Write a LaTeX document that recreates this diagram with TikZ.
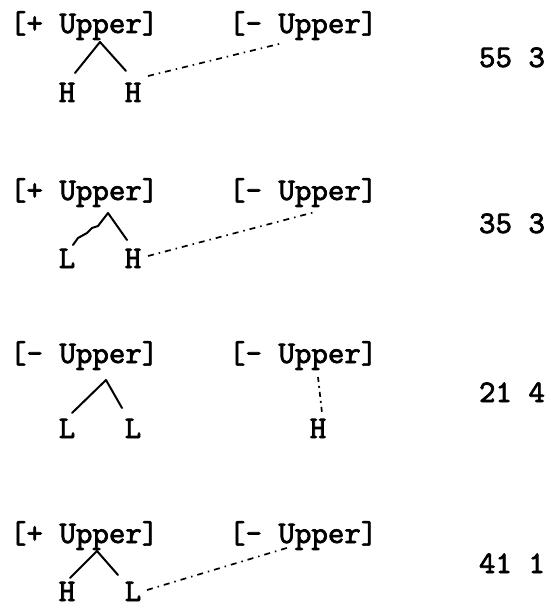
\documentclass[tikz,border=0pt]{standalone}
\usepackage{fontspec}
\setmonofont[FakeBold=2.2]{lmmono10-regular.otf}
\begin{document}
\begin{tikzpicture}[x=1pt,y=-1pt,
  txt/.style={inner sep=0pt,outer sep=0pt,font=\ttfamily\fontsize{31.4}{36}\selectfont},
  tree/.style={line width=2pt,line cap=round,line join=round},
  assoc/.style={line width=1.7pt,dash pattern=on 6pt off 5pt on 1.5pt off 5pt}]
\useasboundingbox (0,0) rectangle (550,609);
% ---------- row 1
\node[txt,anchor=base west] (u1) at (10,33) {[+ Upper]};
\node[txt,anchor=base west] (v1) at (229,33) {[- Upper]};
\node[txt,anchor=base] (h1a) at (67,102) {H};
\node[txt,anchor=base] (h1b) at (133,102) {H};
\node[txt,anchor=base west] (n1) at (479,67) {55 3};
\coordinate (a1) at (100,42);
\coordinate (l1) at (75,73);
\coordinate (r1) at (126,71);
\coordinate (s1) at (148,76);
\coordinate (e1) at (283,43);
\draw[tree] (l1) -- (a1) -- (r1);
\draw[assoc] (s1) -- (e1);
% ---------- row 2
\node[txt,anchor=base west] (u2) at (10,200) {[+ Upper]};
\node[txt,anchor=base west] (v2) at (229,200) {[- Upper]};
\node[txt,anchor=base] (l2a) at (67,268) {L};
\node[txt,anchor=base] (h2b) at (133,268) {H};
\node[txt,anchor=base west] (n2) at (479,233) {35 3};
\coordinate (a2) at (108,213);
\coordinate (l2) at (73,245);
\coordinate (r2) at (127,240);
\coordinate (s2) at (148,256);
\coordinate (e2) at (315,212);
\draw[tree] (l2) -- (78,238) -- (87,233) -- (92,228) -- (98,226) -- (a2) -- (r2);
\draw[assoc] (s2) -- (e2);
% ---------- row 3
\node[txt,anchor=base west] (u3) at (10,363) {[- Upper]};
\node[txt,anchor=base west] (v3) at (229,363) {[- Upper]};
\node[txt,anchor=base] (l3a) at (67,438) {L};
\node[txt,anchor=base] (l3b) at (133,438) {L};
\node[txt,anchor=base] (h3) at (318,438) {H};
\node[txt,anchor=base west] (n3) at (479,402) {21 4};
\coordinate (a3) at (106,380);
\coordinate (l3) at (72,413);
\coordinate (r3) at (122,408);
\coordinate (s3) at (318,377);
\coordinate (e3) at (322,413);
\draw[tree] (l3) -- (a3) -- (r3);
\draw[line width=1.7pt,dash pattern=on 5pt off 4pt on 2pt off 4pt] (s3) -- (e3);
% ---------- row 4
\node[txt,anchor=base west] (u4) at (10,543) {[+ Upper]};
\node[txt,anchor=base west] (v4) at (229,543) {[- Upper]};
\node[txt,anchor=base] (h4a) at (67,601) {H};
\node[txt,anchor=base] (l4b) at (133,601) {L};
\node[txt,anchor=base west] (n4) at (479,573) {41 1};
\coordinate (a4) at (97,551);
\coordinate (l4) at (70,578);
\coordinate (r4) at (118,575);
\coordinate (s4) at (147,590);
\coordinate (e4) at (290,547);
\draw[tree] (l4) -- (a4) -- (r4);
\draw[assoc] (s4) -- (e4);
\end{tikzpicture}
\end{document}
